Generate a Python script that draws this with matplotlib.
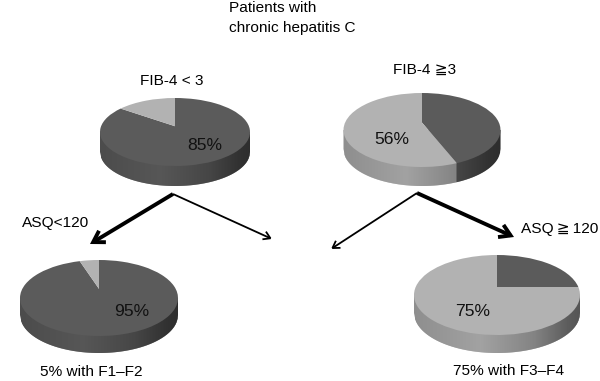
import numpy as np
import matplotlib
matplotlib.use("Agg")
import matplotlib.pyplot as plt
from matplotlib.collections import PolyCollection
from matplotlib.transforms import Affine2D, Transform

# ---- data ----
pie_names = ["FIB-4 < 3", "FIB-4 \u22673", "ASQ<120", "ASQ\u2009\u2267\u2009120"]
dark_share = [85, 44, 95, 25]
light_share = [15, 56, 5, 75]
shown_percent = [85, 56, 95, 75]
captions = ["5% with F1\u2013F2", "75% with F3\u2013F4"]
title_lines = "Patients with\nchronic hepatitis C"

# ---- layout / style ----
FONT = ["Liberation Sans", "DejaVu Sans"]
plt.rcParams["font.family"] = FONT
# cx, cy, rx, ry, depth, apex shift k
GEOM = [(175, 132, 75, 34, 20, 0.17),
        (422, 130, 78.5, 37, 19, 0.20),
        (99, 298, 79, 38, 17, 0.24),
        (497, 295, 83, 40, 18, 0.20)]
TOP_COLORS = ["#5b5b5b", "#b2b2b2"]
RIM_COLORS = [0x52, 0x9a]
PCT_POS = [(205, 145), (392, 139), (132, 311), (473, 312)]
LABEL_SIZE = 11.1
PCT_SIZE = 12.6


class Perspective(Transform):
    """Projective map of the unit disc onto itself, moving the centre to (0, k)."""
    input_dims = output_dims = 2

    def __init__(self, k):
        super().__init__()
        self.k = k

    def transform_non_affine(self, xy):
        xy = np.asarray(xy, float)
        x, y = xy[:, 0], xy[:, 1]
        d = 1 + self.k * y
        return np.column_stack([x * np.sqrt(1 - self.k ** 2) / d, (y + self.k) / d])


def shade(u):
    return np.interp(u, [-1, -0.2, 0.45, 0.85, 1], [0.92, 1.05, 0.85, 0.6, 0.55])


fig = plt.figure(figsize=(6, 3.81), dpi=100)
ax = fig.add_axes([0, 0, 1, 1])

for dark, light, geom in zip(dark_share, light_share, GEOM):
    cx, cy, rx, ry, depth, k = geom
    persp = Perspective(k)
    undo = Perspective(-k)

    def front_y(px):
        u = np.clip((px - cx) / rx, -1, 1)
        return cy + ry * np.sqrt(1 - u ** 2) + depth

    # side wall: one overlapping strip per pixel column, painted left to right
    polys, cols = [], []
    for x1 in np.arange(cx - rx, cx + rx, 1.0):
        x2 = min(x1 + 1.6, cx + rx)
        u = np.clip((x1 + 0.5 - cx) / rx, -1, 1)
        src = undo.transform_non_affine(np.array([[u, -np.sqrt(1 - u ** 2)]]))[0]
        frac = ((np.pi / 2 - np.arctan2(src[1], src[0])) % (2 * np.pi)) / (2 * np.pi) * 100
        base = RIM_COLORS[0] if frac < dark else RIM_COLORS[1]
        g = min(base * shade(u) / 255, 1)
        polys.append([(x1, cy), (x2, cy), (x2, front_y(x2)), (x1, front_y(x1))])
        cols.append((g, g, g))
    ax.add_collection(PolyCollection(polys, facecolors=cols, edgecolors="none",
                                     linewidths=0, zorder=1))
    # top face
    wedges, _ = ax.pie([dark, light], startangle=90, counterclock=False,
                       colors=TOP_COLORS, wedgeprops={"linewidth": 0})
    trans = persp + Affine2D().scale(rx, -ry).translate(cx, cy) + ax.transData
    for w in wedges:
        w.set_transform(trans)
        w.set_zorder(2)

ax.set_aspect("auto")
ax.set_xlim(0, 600)
ax.set_ylim(381, 0)
ax.axis("off")

# percent labels
for pct, (x, y) in zip(shown_percent, PCT_POS):
    ax.text(x, y, f"{pct}%", ha="center", va="center", fontsize=PCT_SIZE, color="#111111", zorder=5)

# annotations
ax.text(229, 18, title_lines, ha="left", va="center", fontsize=LABEL_SIZE, linespacing=1.5)
ax.text(171.5, 81, pie_names[0], ha="center", va="center", fontsize=LABEL_SIZE)
ax.text(425, 70, pie_names[1], ha="center", va="center", fontsize=LABEL_SIZE)
ax.text(22, 223, pie_names[2], ha="left", va="center", fontsize=LABEL_SIZE)
ax.text(521, 229, pie_names[3], ha="left", va="center", fontsize=LABEL_SIZE)
ax.text(40, 372, captions[0], ha="left", va="center", fontsize=LABEL_SIZE)
ax.text(453, 371, captions[1], ha="left", va="center", fontsize=LABEL_SIZE)

# arrows
ARROWS = [((173, 194), (90, 244), 2.8, 0.6), ((173, 194), (272, 239), 1.3, 0.38),
          ((417, 193), (331, 249), 1.3, 0.38), ((417, 193), (514, 237), 2.8, 0.6)]
for start, end, lw, hw in ARROWS:
    ax.annotate("", xy=end, xytext=start, zorder=4,
                arrowprops=dict(arrowstyle=f"->,head_length={hw * 1.3},head_width={hw * 0.8}",
                                lw=lw, color="black", shrinkA=0, shrinkB=0,
                                joinstyle="miter", capstyle="butt"))

fig.savefig("out.png", dpi=100)
